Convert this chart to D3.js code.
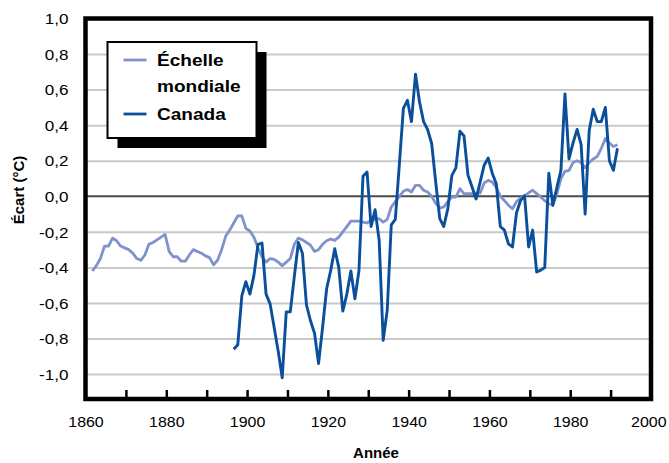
<!DOCTYPE html>
<html>
<head>
<meta charset="utf-8">
<script src="https://cdn.jsdelivr.net/npm/d3@7"></script>
<style>
  body { margin: 0; background: #fff; }
  text { font-family: "Liberation Sans", Arial, sans-serif; fill: #000; }
</style>
</head>
<body>
<script>
// data (ecart de temperature, degC)
var globalStart = 1861;
var globalValues = [
  -0.42, -0.39, -0.35, -0.28, -0.28, -0.235, -0.25, -0.28, -0.29, -0.30,   // 1861-1870
  -0.32, -0.35, -0.36, -0.33, -0.27, -0.26, -0.245, -0.23, -0.214, -0.31,  // 1871-1880
  -0.34, -0.34, -0.365, -0.365, -0.33, -0.30, -0.31, -0.32, -0.335, -0.345, // 1881-1890
  -0.385, -0.36, -0.30, -0.225, -0.19, -0.15, -0.11, -0.11, -0.18, -0.195, // 1891-1900
  -0.23, -0.29, -0.34, -0.37, -0.35, -0.355, -0.37, -0.39, -0.37, -0.35,   // 1901-1910
  -0.27, -0.235, -0.245, -0.26, -0.275, -0.31, -0.30, -0.27, -0.25, -0.24, // 1911-1920
  -0.248, -0.23, -0.20, -0.17, -0.14, -0.14, -0.14, -0.145, -0.15, -0.135, // 1921-1930
  -0.13, -0.126, -0.145, -0.13, -0.06, -0.03, 0.0, 0.028, 0.038, 0.024,    // 1931-1940
  0.062, 0.062, 0.034, 0.024, 0.0, -0.04, -0.066, -0.06, -0.03, -0.004,    // 1941-1950
  -0.004, 0.043, 0.015, 0.015, 0.015, 0.018, 0.018, 0.075, 0.09, 0.08,     // 1951-1960
  0.05, 0.0, -0.024, -0.05, -0.07, -0.03, -0.01, 0.0, 0.02, 0.034,         // 1961-1970
  0.015, -0.004, -0.025, -0.04, -0.05, 0.015, 0.1, 0.14, 0.146, 0.19,      // 1971-1980
  0.2, 0.19, 0.16, 0.19, 0.21, 0.225, 0.27, 0.325, 0.3, 0.28,              // 1981-1990
  0.29                                                                     // 1991
];

var canadaStart = 1896;
var canadaValues = [
  -0.86, -0.835, -0.56, -0.48,                                             // 1896-1899
  -0.55, -0.445, -0.27, -0.263, -0.55, -0.605, -0.736, -0.87, -1.02, -0.65, // 1900-1909
  -0.65, -0.45, -0.26, -0.32, -0.61, -0.70, -0.77, -0.94, -0.736, -0.52,   // 1910-1919
  -0.417, -0.295, -0.40, -0.646, -0.55, -0.42, -0.577, -0.417, 0.113, 0.137, // 1920-1929
  -0.17, -0.075, -0.248, -0.81, -0.64, -0.16, -0.13, 0.18, 0.494, 0.54,    // 1930-1939
  0.42, 0.687, 0.53, 0.42, 0.375, 0.297, 0.08, -0.126, -0.17, -0.07,       // 1940-1949
  0.118, 0.16, 0.366, 0.34, 0.118, 0.052, -0.015, 0.08, 0.175, 0.215,      // 1950-1959
  0.13, 0.07, -0.17, -0.19, -0.267, -0.285, -0.094, -0.024, 0.004, -0.285, // 1960-1969
  -0.19, -0.426, -0.415, -0.40, 0.13, -0.05, 0.05, 0.146, 0.575, 0.21,     // 1970-1979
  0.30, 0.376, 0.29, -0.1, 0.37, 0.49, 0.42, 0.42, 0.5, 0.2,               // 1980-1989
  0.146, 0.27                                                              // 1990-1991
];

var xLabelYears = [1860, 1880, 1900, 1920, 1940, 1960, 1980, 2000];
var xTickYears = [1870, 1880, 1890, 1900, 1910, 1920, 1930, 1940, 1950, 1960, 1970, 1980, 1990];
var yTicks = [-1.0, -0.8, -0.6, -0.4, -0.2, 0.0, 0.2, 0.4, 0.6, 0.8, 1.0];
var yLabels = ["-1,0", "-0,8", "-0,6", "-0,4", "-0,2", "0,0", "0,2", "0,4", "0,6", "0,8", "1,0"];

var legendItems = [
  { lines: ["\u00c9chelle", "mondiale"], color: "#7f92cc" },
  { lines: ["Canada"], color: "#0a4f9c" }
];

// the source plots each year a bit inside its bin (category axis)
var binOffset = 0.7;

var W = 669, H = 463;
var plot = { left: 85.5, top: 18.5, right: 651, bottom: 399 };

var x = d3.scaleLinear().domain([1860, 2000]).range([plot.left, plot.right]);
var y = d3.scaleLinear().domain([-1.14, 1.0]).range([plot.bottom, plot.top]);

var svg = d3.select("body").append("svg")
    .attr("width", W)
    .attr("height", H);

// gridlines
var grid = svg.append("g")
    .attr("transform", "translate(" + plot.left + ",0)")
    .call(d3.axisLeft(y)
        .tickValues(yTicks.filter(function (d) { return d !== 0; }))
        .tickSize(-(plot.right - plot.left))
        .tickFormat(""));
grid.select(".domain").remove();
grid.selectAll("line").attr("stroke", "#c9c9c9").attr("stroke-width", 2);

svg.append("line")
    .attr("x1", plot.left).attr("x2", plot.right)
    .attr("y1", y(0)).attr("y2", y(0))
    .attr("stroke", "#4a4a4a")
    .attr("stroke-width", 2);

// series
function toPoints(start, values) {
    return values.map(function (v, i) { return { year: start + i, value: v }; });
}

var line = d3.line()
    .x(function (d) { return x(d.year + binOffset); })
    .y(function (d) { return y(d.value); });

svg.append("path")
    .datum(toPoints(globalStart, globalValues))
    .attr("d", line)
    .attr("fill", "none")
    .attr("stroke", legendItems[0].color)
    .attr("stroke-width", 2.8)
    .attr("stroke-linejoin", "round");

svg.append("path")
    .datum(toPoints(canadaStart, canadaValues))
    .attr("d", line)
    .attr("fill", "none")
    .attr("stroke", legendItems[1].color)
    .attr("stroke-width", 2.9)
    .attr("stroke-linejoin", "round");

// frame
svg.append("rect")
    .attr("x", plot.left).attr("y", plot.top)
    .attr("width", plot.right - plot.left)
    .attr("height", plot.bottom - plot.top)
    .attr("fill", "none")
    .attr("stroke", "#000")
    .attr("stroke-width", 4.5);

// x tick marks (inside, pointing up)
var xt = svg.append("g")
    .attr("transform", "translate(0," + (plot.bottom - 2) + ")")
    .call(d3.axisTop(x).tickValues(xTickYears).tickSize(7).tickFormat(""));
xt.select(".domain").remove();
xt.selectAll("line").attr("stroke", "#000").attr("stroke-width", 2.5);

// x labels
var xa = svg.append("g")
    .attr("transform", "translate(0," + plot.bottom + ")")
    .call(d3.axisBottom(x).tickValues(xLabelYears).tickSize(0).tickFormat(d3.format("d")));
xa.select(".domain").remove();
xa.selectAll("text")
    .attr("y", 28)
    .attr("dy", 0)
    .attr("transform", "scale(1.1,1)")
    .style("font-size", "14.5px")
    .attr("fill", "#000");
// last label sits a little left, as in the source
xa.selectAll(".tick").filter(function (d) { return d === 2000; })
    .select("text").attr("x", -2.5);

// y labels
var ya = svg.append("g")
    .attr("transform", "translate(" + plot.left + ",0)")
    .call(d3.axisLeft(y).tickValues(yTicks).tickSize(0)
        .tickFormat(function (d, i) { return yLabels[i]; }));
ya.select(".domain").remove();
ya.selectAll("text")
    .attr("x", -14.5)
    .attr("dy", "0.36em")
    .attr("transform", "scale(1.18,1)")
    .style("font-size", "14.5px")
    .attr("fill", "#000");

// axis titles
svg.append("text")
    .attr("x", 376).attr("y", 458)
    .attr("text-anchor", "middle")
    .style("font-size", "15px")
    .style("font-weight", "bold")
    .text("Ann\u00e9e");

svg.append("text")
    .attr("transform", "translate(24,190) rotate(-90)")
    .attr("text-anchor", "middle")
    .style("font-size", "15px")
    .style("font-weight", "bold")
    .text("\u00c9cart (\u00b0C)");

// legend with drop shadow
var lg = { x: 107.5, y: 42, w: 149, h: 96 };
svg.append("rect")
    .attr("x", lg.x + 10).attr("y", lg.y + 10)
    .attr("width", lg.w).attr("height", lg.h)
    .attr("fill", "#000");
svg.append("rect")
    .attr("x", lg.x).attr("y", lg.y)
    .attr("width", lg.w).attr("height", lg.h)
    .attr("fill", "#fff")
    .attr("stroke", "#000")
    .attr("stroke-width", 2);

var rowY = [60, 114];
legendItems.forEach(function (d, i) {
    svg.append("line")
        .attr("x1", lg.x + 16).attr("x2", lg.x + 39)
        .attr("y1", rowY[i]).attr("y2", rowY[i])
        .attr("stroke", d.color)
        .attr("stroke-width", 2.8);
    d.lines.forEach(function (t, j) {
        svg.append("text")
            .attr("transform", "translate(" + (lg.x + 49.5) + "," + (rowY[i] + 5.5 + j * 26) + ") scale(1.12,1)")
            .style("font-size", "17px")
            .style("font-weight", "bold")
            .text(t);
    });
});
</script>
</body>
</html>
